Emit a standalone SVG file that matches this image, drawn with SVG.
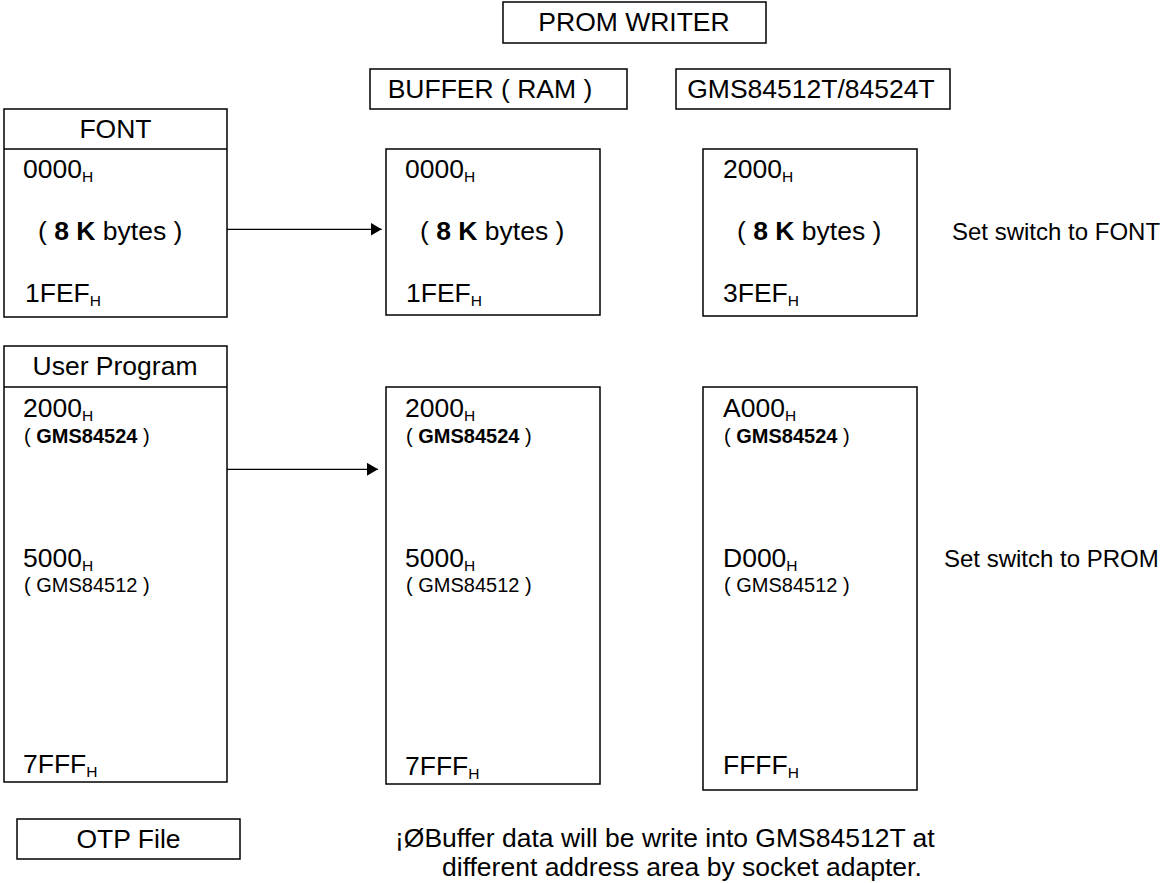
<svg xmlns="http://www.w3.org/2000/svg" width="1162" height="883" viewBox="0 0 1162 883">
<defs>
<style>
text{font-family:"Liberation Sans",Arial,sans-serif;fill:#000;font-size:26.5px}
.box{fill:#fff;stroke:#000;stroke-width:1.5}
.ln{stroke:#000;stroke-width:1.5;fill:none}
.sm{font-size:20px}
.side{font-size:24px}
.b{font-weight:bold}
.c{text-anchor:middle}
.conn{stroke:#000;stroke-width:1.3;fill:none}
</style>
<marker id="arr" markerWidth="11" markerHeight="13" refX="11" refY="6.5" orient="auto" markerUnits="userSpaceOnUse">
<path d="M0,0 L11,6.5 L0,13 Z" fill="#000"/>
</marker>
</defs>
<rect width="1162" height="883" fill="#fff"/>

<g id="prom-writer">
<rect class="box" x="503" y="2" width="263" height="41"/>
<text class="c" x="634" y="31">PROM WRITER</text>
</g>

<g id="buffer-label">
<rect class="box" x="370" y="69" width="257" height="40"/>
<text class="c" x="490" y="98">BUFFER ( RAM )</text>
</g>

<g id="gms-label">
<rect class="box" x="676" y="69" width="274" height="40"/>
<text class="c" x="811" y="98">GMS84512T/84524T</text>
</g>

<g id="font-file">
<rect class="box" x="4" y="109" width="223" height="208"/>
<line class="ln" x1="4" y1="149" x2="227" y2="149"/>
<text class="c" x="115.5" y="138">FONT</text>
<text x="23" y="178">0000<tspan font-size="15.5" dy="4">H</tspan></text>
<text x="38" y="240">( <tspan class="b">8 K</tspan> bytes )</text>
<text x="25" y="302">1FEF<tspan font-size="15.5" dy="4">H</tspan></text>
</g>

<g id="buffer-font">
<rect class="box" x="386" y="149" width="214" height="166"/>
<text x="405" y="178">0000<tspan font-size="15.5" dy="4">H</tspan></text>
<text x="420" y="240">( <tspan class="b">8 K</tspan> bytes )</text>
<text x="406" y="302">1FEF<tspan font-size="15.5" dy="4">H</tspan></text>
</g>

<g id="gms-font">
<rect class="box" x="703" y="149" width="214" height="167"/>
<text x="723" y="178">2000<tspan font-size="15.5" dy="4">H</tspan></text>
<text x="737" y="240">( <tspan class="b">8 K</tspan> bytes )</text>
<text x="723" y="302">3FEF<tspan font-size="15.5" dy="4">H</tspan></text>
</g>

<g id="note-font">
<text class="side" x="952" y="240">Set switch to FONT</text>
</g>

<g id="user-program">
<rect class="box" x="4" y="346" width="223" height="436"/>
<line class="ln" x1="4" y1="387" x2="227" y2="387"/>
<text class="c" x="115" y="375">User Program</text>
<text x="23" y="417">2000<tspan font-size="15.5" dy="4">H</tspan></text>
<text class="sm" x="24" y="443">( <tspan class="b">GMS84524</tspan> )</text>
<text x="23" y="567">5000<tspan font-size="15.5" dy="4">H</tspan></text>
<text class="sm" x="24" y="592">( GMS84512 )</text>
<text x="23" y="773">7FFF<tspan font-size="15.5" dy="4">H</tspan></text>
</g>

<g id="buffer-prom">
<rect class="box" x="386" y="387" width="214" height="397"/>
<text x="405" y="417">2000<tspan font-size="15.5" dy="4">H</tspan></text>
<text class="sm" x="406" y="443">( <tspan class="b">GMS84524</tspan> )</text>
<text x="405" y="567">5000<tspan font-size="15.5" dy="4">H</tspan></text>
<text class="sm" x="406" y="592">( GMS84512 )</text>
<text x="405" y="775">7FFF<tspan font-size="15.5" dy="4">H</tspan></text>
</g>

<g id="gms-prom">
<rect class="box" x="703" y="387" width="214" height="403"/>
<text x="723" y="417">A000<tspan font-size="15.5" dy="4">H</tspan></text>
<text class="sm" x="724" y="443">( <tspan class="b">GMS84524</tspan> )</text>
<text x="723" y="567">D000<tspan font-size="15.5" dy="4">H</tspan></text>
<text class="sm" x="724" y="592">( GMS84512 )</text>
<text x="723" y="774">FFFF<tspan font-size="15.5" dy="4">H</tspan></text>
</g>

<g id="note-prom">
<text class="side" x="944" y="567">Set switch to PROM</text>
</g>

<g id="otp-file">
<rect class="box" x="17" y="819" width="223" height="40"/>
<text class="c" x="128.5" y="848">OTP File</text>
</g>

<g id="note-buffer">
<text x="395" y="847">¡ØBuffer data will be write into GMS84512T at</text>
<text x="442" y="876">different address area by socket adapter.</text>
</g>

<g id="connectors">
<line class="conn" x1="227" y1="229.3" x2="381.7" y2="229.3" marker-end="url(#arr)"/>
<line class="conn" x1="227" y1="469.3" x2="378" y2="469.3" marker-end="url(#arr)"/>
</g>
</svg>
